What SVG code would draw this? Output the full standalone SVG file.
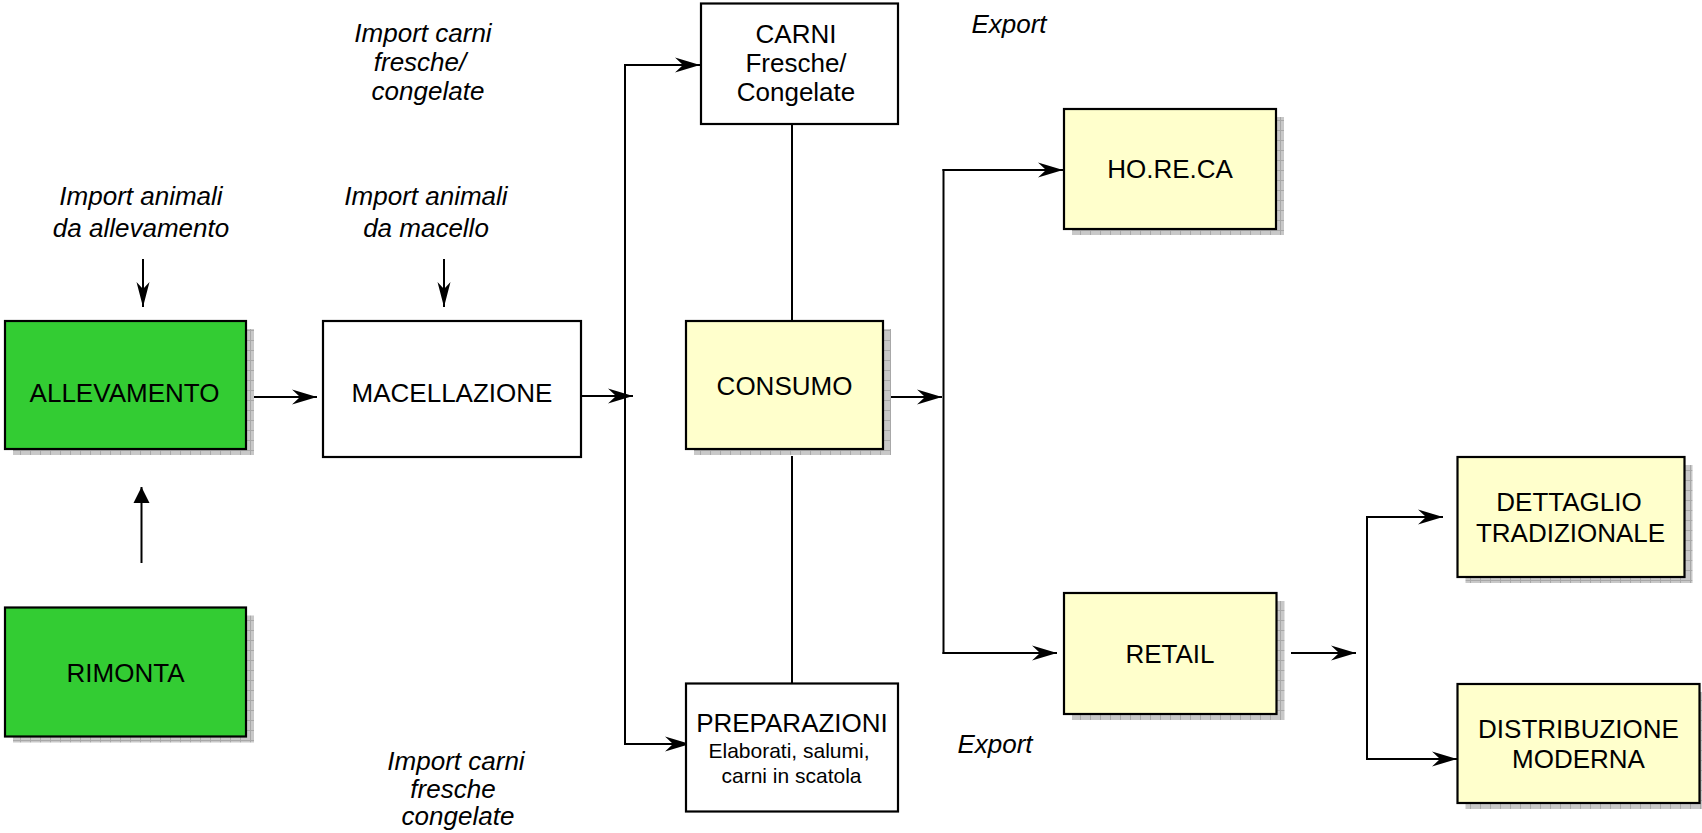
<svg xmlns="http://www.w3.org/2000/svg" width="1702" height="833" viewBox="0 0 1702 833">
<style>
.box{stroke:#000;stroke-width:2.2}
.g{fill:#33cc33}
.y{fill:#ffffcc}
.w{fill:#ffffff}
.sh{fill:url(#hatch)}
.t{font-family:"Liberation Sans",Arial,sans-serif;font-size:26px;fill:#000;text-anchor:middle}
.s{font-family:"Liberation Sans",Arial,sans-serif;font-size:21px;fill:#000;text-anchor:middle}
.i{font-family:"Liberation Sans",Arial,sans-serif;font-size:26px;font-style:italic;fill:#000;text-anchor:middle}
.c{stroke:#000;stroke-width:2;fill:none}
.a{stroke:#000;stroke-width:2;fill:none;marker-end:url(#stealth)}
.ad{stroke:#000;stroke-width:2;fill:none;marker-end:url(#narrow)}
.au{stroke:#000;stroke-width:2;fill:none;marker-end:url(#tri)}
</style>
<defs>
<pattern id="hatch" width="10" height="10" patternUnits="userSpaceOnUse">
<rect width="10" height="10" fill="#c8c8c8"/>
<path d="M0,0.5 H10 M0.5,0 V10" stroke="#a8a8a8" stroke-width="1"/>
</pattern>
<marker id="stealth" markerUnits="userSpaceOnUse" markerWidth="30" markerHeight="20" viewBox="-26 -10 28 20" refX="0" refY="0" orient="auto">
<path d="M0,0 L-25,-7.5 L-17,0 L-25,7.5 Z" fill="#000"/>
</marker>
<marker id="narrow" markerUnits="userSpaceOnUse" markerWidth="30" markerHeight="20" viewBox="-26 -10 28 20" refX="0" refY="0" orient="auto">
<path d="M0,0 L-25,-6.5 L-18,0 L-25,6.5 Z" fill="#000"/>
</marker>
<marker id="tri" markerUnits="userSpaceOnUse" markerWidth="20" markerHeight="20" viewBox="-18 -10 20 20" refX="0" refY="0" orient="auto">
<path d="M0,0 L-16,-8 L-16,8 Z" fill="#000"/>
</marker>
</defs>

<g id="connectors">
<line class="a" x1="246" y1="397" x2="317" y2="397"/>
<line class="a" x1="581" y1="396" x2="633" y2="396"/>
<line class="c" x1="625" y1="64" x2="625" y2="745"/>
<polyline class="a" points="624,65 700,65"/>
<polyline class="a" points="624,744 690,744"/>
<line class="c" x1="792" y1="124" x2="792" y2="321"/>
<line class="c" x1="792" y1="456" x2="792" y2="684"/>
<line class="a" x1="883" y1="397" x2="942" y2="397"/>
<line class="c" x1="943.5" y1="169" x2="943.5" y2="654"/>
<polyline class="a" points="942.5,170 1063,170"/>
<polyline class="a" points="942.5,653 1057,653"/>
<line class="a" x1="1291" y1="653" x2="1356" y2="653"/>
<line class="c" x1="1367" y1="516" x2="1367" y2="760"/>
<polyline class="a" points="1366,517 1443,517"/>
<polyline class="a" points="1366,759 1457,759"/>
<line class="ad" x1="143" y1="259" x2="143" y2="307"/>
<line class="ad" x1="444" y1="259" x2="444" y2="307"/>
<line class="au" x1="141.5" y1="563" x2="141.5" y2="487"/>
</g>

<g id="labels">
<text class="i" x="141" y="205">Import animali</text>
<text class="i" x="141" y="236.5">da allevamento</text>
<text class="i" x="426" y="205">Import animali</text>
<text class="i" x="426" y="236.5">da macello</text>
<text class="i" x="423" y="41.5">Import carni</text>
<text class="i" x="420" y="71">fresche/</text>
<text class="i" x="428" y="100">congelate</text>
<text class="i" x="456" y="770">Import carni</text>
<text class="i" x="453" y="797.5">fresche</text>
<text class="i" x="458" y="825">congelate</text>
<text class="i" x="1009" y="33">Export</text>
<text class="i" x="995" y="753">Export</text>
</g>

<g id="allevamento">
<rect class="sh" x="13" y="329" width="241" height="126"/>
<rect class="box g" x="5" y="321" width="241" height="128"/>
<text class="t" x="124.5" y="402">ALLEVAMENTO</text>
</g>
<g id="rimonta">
<rect class="sh" x="13" y="615.5" width="241" height="127"/>
<rect class="box g" x="5" y="607.5" width="241" height="129"/>
<text class="t" x="125.5" y="682">RIMONTA</text>
</g>
<g id="macellazione">
<rect class="box w" x="323" y="321" width="258" height="136"/>
<text class="t" x="452" y="402">MACELLAZIONE</text>
</g>
<g id="carni">
<rect class="box w" x="701" y="3.5" width="197" height="120.5"/>
<text class="t" x="796" y="43">CARNI</text>
<text class="t" x="796" y="72">Fresche/</text>
<text class="t" x="796" y="101">Congelate</text>
</g>
<g id="consumo">
<rect class="sh" x="694" y="329" width="197" height="126"/>
<rect class="box y" x="686" y="321" width="197" height="128"/>
<text class="t" x="784.5" y="395">CONSUMO</text>
</g>
<g id="preparazioni">
<rect class="box w" x="686" y="683.5" width="212" height="128"/>
<text class="t" x="792" y="731.5">PREPARAZIONI</text>
<text class="s" x="789" y="758">Elaborati, salumi,</text>
<text class="s" x="791.5" y="783">carni in scatola</text>
</g>
<g id="horeca">
<rect class="sh" x="1072" y="117" width="212" height="118"/>
<rect class="box y" x="1064" y="109" width="212" height="120"/>
<text class="t" x="1170" y="178">HO.RE.CA</text>
</g>
<g id="retail">
<rect class="sh" x="1072" y="601" width="212.5" height="119"/>
<rect class="box y" x="1064" y="593" width="212.5" height="121"/>
<text class="t" x="1170" y="663">RETAIL</text>
</g>
<g id="dettaglio">
<rect class="sh" x="1465.5" y="465" width="227" height="118"/>
<rect class="box y" x="1457.5" y="457" width="227" height="120"/>
<text class="t" x="1569" y="511">DETTAGLIO</text>
<text class="t" x="1570.5" y="541.5">TRADIZIONALE</text>
</g>
<g id="distribuzione">
<rect class="sh" x="1465.5" y="692" width="242" height="117"/>
<rect class="box y" x="1457.5" y="684" width="242" height="119"/>
<text class="t" x="1578.5" y="737.5">DISTRIBUZIONE</text>
<text class="t" x="1578.5" y="768">MODERNA</text>
</g>
</svg>
